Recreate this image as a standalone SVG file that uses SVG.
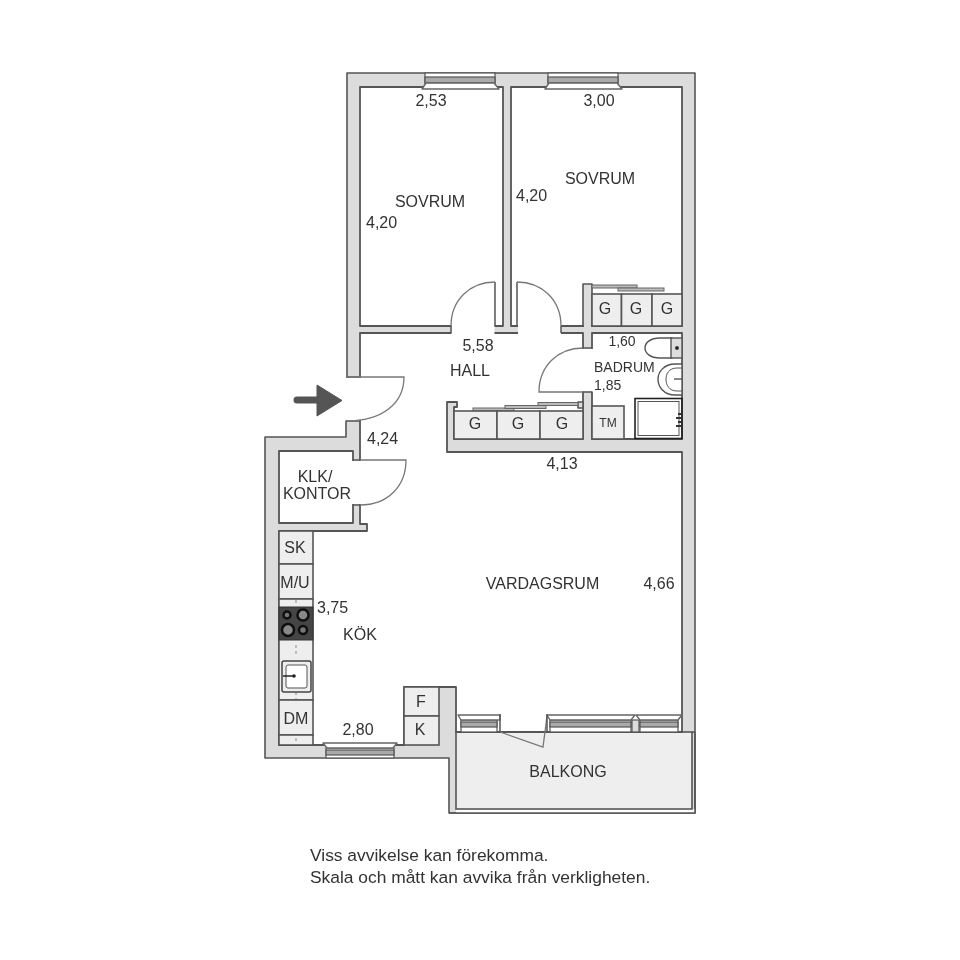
<svg xmlns="http://www.w3.org/2000/svg" width="960" height="960" viewBox="0 0 960 960">
<style>
text{font-family:"Liberation Sans",Arial,sans-serif;font-size:16px;fill:#333}
.m{text-anchor:middle}.s{font-size:14px}.t{font-size:12px}.f{font-size:17.400px}
.w{fill:#dcdcdc;stroke:#555;stroke-width:1.6;stroke-linejoin:round}
.r{fill:#fff;stroke:#555;stroke-width:1.8;stroke-linejoin:round}
.c{fill:#eee;stroke:#555;stroke-width:1.6}
.gap{fill:#fff}
.d{fill:none;stroke:#777;stroke-width:1.3}
.l{fill:none;stroke:#555;stroke-width:1.5}
.wb{fill:#aaa;stroke:#555;stroke-width:1.2}
.ws{fill:#fff;stroke:#666;stroke-width:1.4;stroke-linejoin:round}
.wf{fill:#fff;stroke:#555;stroke-width:1.2}
.bar{fill:#bbb;stroke:#666;stroke-width:1}
</style>
<defs>
<filter id="soft" filterUnits="userSpaceOnUse" x="0" y="0" width="960" height="960"><feGaussianBlur stdDeviation="0.5"/></filter>
</defs>
<rect width="960" height="960" fill="#fff"/>
<g filter="url(#soft)">
<g id="walls">
<path class="w" d="M347 73H695V813H449V758H265V437H346V421H347Z"/>
<rect x="456" y="809" width="239" height="4" fill="#fff"/>
<path class="l" d="M449 813H695V732"/>
<rect class="c" x="456" y="732" width="236" height="77"/>
<path class="l" d="M692 732H695"/>
</g>
<g id="rooms">
<rect id="sovrum-1" class="r" x="360" y="87" width="143" height="239"/>
<rect id="sovrum-2" class="r" x="511" y="87" width="171" height="239"/>
<path id="hall-vardagsrum-kok" class="r" d="M360 333H583V439H454V407H457V402H447V452H682V732H456V687H404V745H279V531H367V524H360Z"/>
<rect id="badrum" class="r" x="592" y="333" width="90" height="106"/>
<rect id="klk" class="r" x="279" y="451" width="74" height="72"/>
</g>
<g id="doors">
<rect class="gap" x="451.500" y="325" width="43" height="9"/>
<rect class="gap" x="518" y="325" width="43" height="9"/>
<rect class="gap" x="345" y="378" width="17" height="42"/>
<rect class="gap" x="351" y="461" width="11" height="43"/>
<rect class="gap" x="582" y="349" width="11" height="42.500"/>
<path class="l" d="M451 326V333M495 282V326M517 282V326M561 326V333M346 377H360M346 421H360M353 460H360M353 505H360M583 348H592M583 392H592"/>
<path class="d" d="M451 326C451 300 470 282 495 282M517 282C542 282 561 300 561 326"/>
<path class="d" d="M346 377H404C404 403 383 421 346 421"/>
<path class="d" d="M360 460H406C406 486 388 505 360 505"/>
<path class="d" d="M583 348C558 348 539 366 539 392H583"/>
<path class="d" d="M500 732L543 747L547 716"/>
</g>
<g id="walls-inner">
<rect class="w" x="583" y="284" width="9" height="42"/>
<path class="w" d="M583 402H578V408H583Z"/>
<rect x="584" y="325" width="7" height="9" fill="#dcdcdc"/>
</g>
<g id="windows">
<g id="window-1">
<rect class="wf" x="425" y="73" width="70" height="10"/>
<rect class="wb" x="425" y="77" width="70" height="6"/>
<path class="ws" d="M426 83H494L499 89H422Z"/>
</g>
<g id="window-2">
<rect class="wf" x="548" y="73" width="70" height="10"/>
<rect class="wb" x="548" y="77" width="70" height="6"/>
<path class="ws" d="M549 83H617L622 89H545Z"/>
</g>
<g id="window-3">
<rect class="wf" x="326" y="748" width="68" height="10"/>
<rect class="wb" x="326" y="750" width="68" height="5"/>
<path class="ws" d="M323 743H397L393 748H327Z"/>
</g>
<g id="window-4">
<rect class="wf" x="461" y="720" width="36" height="12"/>
<rect class="wb" x="461" y="722" width="36" height="5"/>
<path class="ws" d="M458 715H500V720H461Z"/>
</g>
<g id="window-5">
<rect class="wf" x="550" y="720" width="81" height="12"/>
<rect class="wb" x="550" y="722" width="81" height="5"/>
<path class="ws" d="M547 715H635L631 720H550Z"/>
</g>
<g id="window-6">
<rect class="wf" x="640" y="720" width="38" height="12"/>
<rect class="wb" x="640" y="722" width="38" height="5"/>
<path class="ws" d="M636 715H682L678 720H640Z"/>
</g>
<rect x="632" y="720" width="7" height="12" fill="#dcdcdc" stroke="#555" stroke-width="1.200"/>
<path class="l" d="M500 714V732M547 714V732"/>
</g>
<g id="closets">
<rect class="bar" x="592" y="285" width="45" height="3"/>
<rect class="bar" x="618" y="288" width="46" height="3"/>
<rect class="c" x="592" y="294" width="29.500" height="32"/>
<rect class="c" x="621.500" y="294" width="30.500" height="32"/>
<rect class="c" x="652" y="294" width="30" height="32"/>
<rect class="bar" x="473" y="408" width="41" height="3"/>
<rect class="bar" x="505" y="405.500" width="41" height="3"/>
<rect class="bar" x="538" y="402.500" width="40" height="3"/>
<rect class="c" x="454" y="411" width="43" height="28"/>
<rect class="c" x="497" y="411" width="43" height="28"/>
<rect class="c" x="540" y="411" width="43" height="28"/>
<rect id="tm" class="c" x="592" y="406" width="32" height="33"/>
<rect id="f" class="c" x="404" y="687" width="35" height="29"/>
<rect id="k" class="c" x="404" y="716" width="35" height="29"/>
</g>
<g id="bath-fixtures" fill="#fff" stroke="#555">
<path d="M672 338H660C650 338 645 343 645 348C645 353 650 358 660 358H672Z" stroke-width="1.400"/>
<rect x="671" y="338" width="11" height="20" fill="#ddd" stroke-width="1.400"/>
<circle cx="677" cy="348" r="1.700" fill="#222"/>
<path d="M682 364H675C664 364 658 372 658 379C658 387 664 395 675 395H682Z" stroke-width="1.400"/>
<path d="M682 368H677C669 368 666 374 666 379C666 385 669 391 677 391H682" fill="none" stroke-width="1"/>
<path d="M674 379H682" stroke-width="1.400"/>
<rect x="635" y="398.500" width="47" height="40" fill="none" stroke="#222" stroke-width="1.600"/>
<rect x="638" y="401.500" width="41" height="34" fill="none" stroke-width="1"/>
<path d="M678 414H682M676 418H682M678 422H682M676 426H682" stroke="#333" stroke-width="2"/>
</g>
<g id="kitchen">
<rect class="c" x="279" y="531" width="34" height="33"/>
<rect class="c" x="279" y="564" width="34" height="35"/>
<rect class="c" x="279" y="599" width="34" height="101"/>
<rect class="c" x="279" y="700" width="34" height="35"/>
<rect class="c" x="279" y="735" width="34" height="10"/>
<path d="M296 600V606M296 645V655M296 692V699M296 738V744" stroke="#999" stroke-width="1.200" stroke-dasharray="3 3"/>
<g id="stove">
<rect x="279" y="607" width="34" height="33" fill="#444" stroke="#333"/>
<g stroke="#111" stroke-width="2.500">
<circle cx="287" cy="615" r="3.500" fill="#777"/>
<circle cx="303" cy="615" r="5.500" fill="#888"/>
<circle cx="288" cy="630" r="6" fill="#888"/>
<circle cx="303" cy="630" r="4" fill="#777"/>
</g>
</g>
<g id="sink">
<rect x="282" y="661" width="29" height="31" rx="2" fill="#eee" stroke="#444" stroke-width="1.500"/>
<rect x="286" y="665" width="21" height="23" rx="2" fill="#fff" stroke="#555"/>
<path d="M283 676H294" stroke="#222" stroke-width="1.500"/>
<circle cx="294" cy="676" r="1.800" fill="#222"/>
</g>
</g>
<g id="entrance-arrow">
<path d="M297 400H320" stroke="#555" stroke-width="7" stroke-linecap="round"/>
<path d="M317 385L342 400.500L317 416Z" fill="#555" stroke="#555" stroke-linejoin="round"/>
</g>
<g id="labels">
<text class="m" x="431" y="106">2,53</text>
<text class="m" x="599" y="106">3,00</text>
<text class="m" x="430" y="207">SOVRUM</text>
<text x="366" y="228">4,20</text>
<text class="m" x="600" y="184">SOVRUM</text>
<text x="516" y="201">4,20</text>
<text class="m" x="478" y="351">5,58</text>
<text class="m" x="470" y="376">HALL</text>
<text class="m s" x="622" y="346">1,60</text>
<text class="s" x="594" y="372">BADRUM</text>
<text class="s" x="594" y="390">1,85</text>
<text class="m" x="605" y="314">G</text>
<text class="m" x="636" y="314">G</text>
<text class="m" x="667" y="314">G</text>
<text class="m" x="475" y="429">G</text>
<text class="m" x="518" y="429">G</text>
<text class="m" x="562" y="429">G</text>
<text class="m t" x="608" y="427">TM</text>
<text x="367" y="444">4,24</text>
<text class="m" x="315" y="482">KLK/</text>
<text class="m" x="317" y="499">KONTOR</text>
<text class="m" x="562" y="469">4,13</text>
<text class="m" x="542.500" y="589">VARDAGSRUM</text>
<text class="m" x="659" y="589">4,66</text>
<text class="m" x="295" y="553">SK</text>
<text class="m" x="295" y="588">M/U</text>
<text x="317" y="613">3,75</text>
<text class="m" x="360" y="640">KÖK</text>
<text class="m" x="296" y="724">DM</text>
<text class="m" x="358" y="735">2,80</text>
<text class="m" x="421" y="707">F</text>
<text class="m" x="420" y="735">K</text>
<text class="m" x="568" y="777">BALKONG</text>
<text class="f" x="310" y="861">Viss avvikelse kan förekomma.</text>
<text class="f" x="310" y="883">Skala och mått kan avvika från verkligheten.</text>
</g>
</g>
</svg>
